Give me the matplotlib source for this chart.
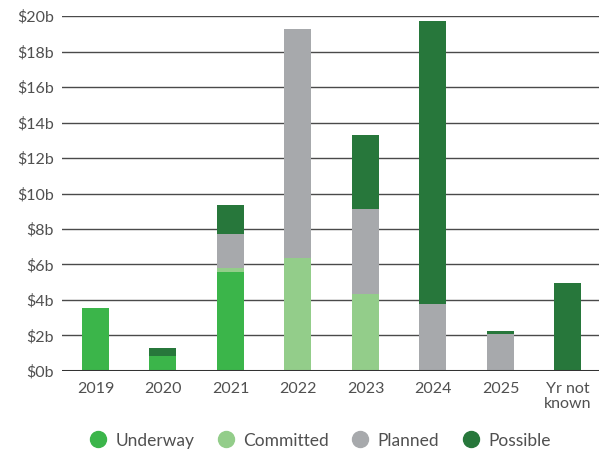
import matplotlib.pyplot as plt
from matplotlib.lines import Line2D
import numpy as np

categories = ["2019", "2020", "2021", "2022", "2023", "2024", "2025", "Yr not\nknown"]
underway = [3.55, 0.85, 5.58, 0.0, 0.0, 0.0, 0.0, 0.0]
committed = [0.0, 0.0, 0.22, 6.37, 4.34, 0.0, 0.0, 0.0]
planned = [0.0, 0.0, 1.92, 12.9, 4.79, 3.77, 2.08, 0.06]
possible = [0.0, 0.45, 1.63, 0.0, 4.17, 15.95, 0.17, 4.9]

series = [
    ("Underway", underway, "#3bb54a"),
    ("Committed", committed, "#93cd8a"),
    ("Planned", planned, "#a7a9ac"),
    ("Possible", possible, "#27773b"),
]

plt.rcParams["font.family"] = ["Lato", "DejaVu Sans"]
text_color = "#505050"

fig = plt.figure(figsize=(6.05, 4.5), dpi=100)
ax = fig.add_axes([0.1025, 0.1756, 0.8875, 0.7888])

x = np.arange(len(categories))
bottom = np.zeros(len(categories))
for name, vals, color in series:
    vals = np.array(vals)
    ax.bar(x, vals, width=0.4, bottom=bottom, color=color, zorder=3, clip_on=False)
    bottom += vals

ax.set_xlim(-0.496, 7.46)
ax.set_ylim(0, 20)
ticks = np.arange(0, 21, 2)
ax.set_yticks(ticks)
ax.set_yticklabels([f"${t}b" for t in ticks])
ax.set_xticks(x)
ax.set_xticklabels(categories, linespacing=1.1)
ax.tick_params(axis="both", length=0, labelsize=11.5, labelcolor=text_color)
ax.tick_params(axis="y", pad=6)
ax.tick_params(axis="x", pad=8)

for t in ticks[1:]:
    ax.axhline(t, color="#4a4a4a", lw=1.0, zorder=1)
ax.axhline(0, color="#333333", lw=2.2, zorder=4)
for s in ax.spines.values():
    s.set_visible(False)

handles = [Line2D([], [], marker="o", ls="", markersize=11.5, color=c, label=n)
           for n, _, c in series]
fig.legend(handles=handles, loc="center", bbox_to_anchor=(0.529, 0.021),
           ncol=4, frameon=False, fontsize=12.5, labelcolor=text_color,
           handletextpad=0.5, columnspacing=1.3, handlelength=1.0)

fig.savefig("out.png", dpi=100)
